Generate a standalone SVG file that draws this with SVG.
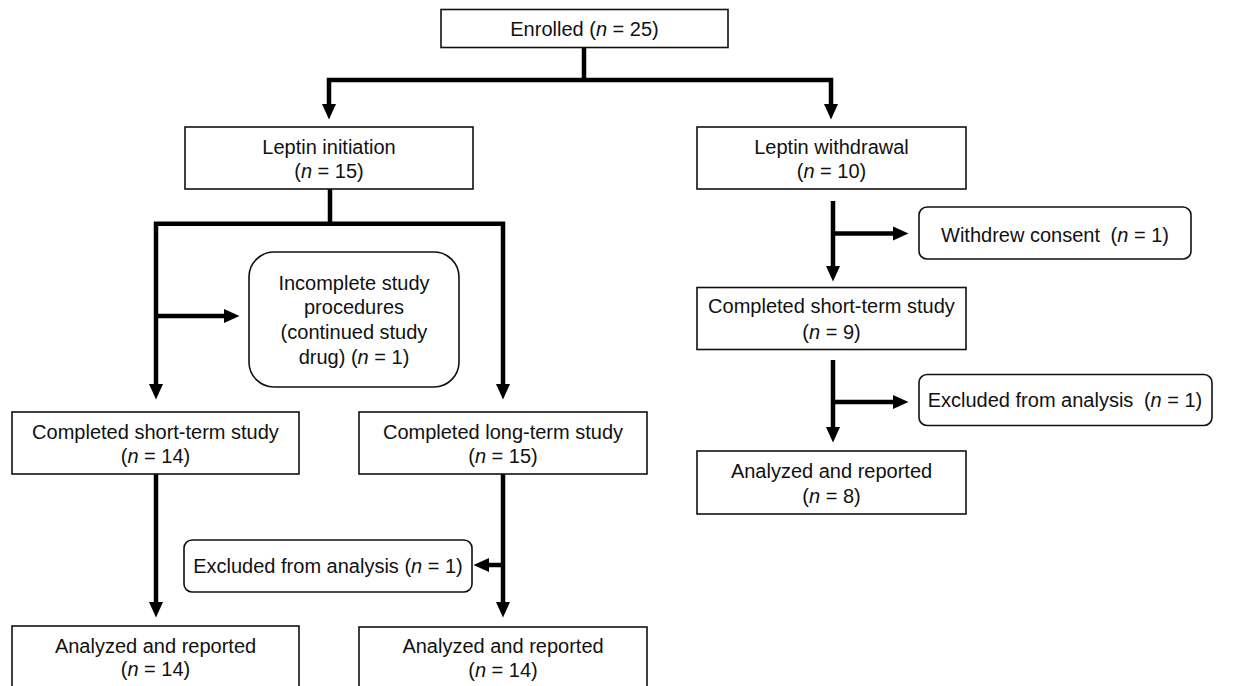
<svg xmlns="http://www.w3.org/2000/svg" width="1248" height="686" viewBox="0 0 1248 686">
<defs>
<style>
.box{fill:#fff;stroke:#111;stroke-width:1.6}
.t{font-family:"Liberation Sans",Arial,Helvetica,sans-serif;font-size:20px;fill:#111;text-anchor:middle}
.i{font-style:italic}
.c{fill:none;stroke:#000;stroke-width:4.5;stroke-linejoin:miter}
</style>
<marker id="ah" markerUnits="userSpaceOnUse" markerWidth="16" markerHeight="15" refX="5" refY="7" orient="auto-start-reverse" viewBox="0 0 16 14">
<path d="M0,0 L15.5,7 L0,14 z" fill="#000"/>
</marker>
</defs>
<rect width="1248" height="686" fill="#fff"/>
<g id="connectors">
<path class="c" d="M584,47 V80"/>
<path class="c" d="M329,109 V80 H831 V109" marker-start="url(#ah)" marker-end="url(#ah)"/>
<path class="c" d="M330,189 V223.7"/>
<path class="c" d="M156,389 V223.7 H503 V389" marker-start="url(#ah)" marker-end="url(#ah)"/>
<path class="c" d="M156,316 H229" marker-end="url(#ah)"/>
<path class="c" d="M156,474 V607" marker-end="url(#ah)"/>
<path class="c" d="M503,474 V607" marker-end="url(#ah)"/>
<path class="c" d="M503,565 H484" marker-end="url(#ah)"/>
<path class="c" d="M833,201 V271" marker-end="url(#ah)"/>
<path class="c" d="M833,233.5 H898" marker-end="url(#ah)"/>
<path class="c" d="M833,360 V432" marker-end="url(#ah)"/>
<path class="c" d="M833,402 H898" marker-end="url(#ah)"/>
</g>
<g id="enrolled">
<rect class="box" x="441" y="9.5" width="287" height="38"/>
<text class="t" x="584.5" y="36">Enrolled (<tspan class="i">n</tspan> = 25)</text>
</g>
<g id="leptin-initiation">
<rect class="box" x="185" y="127" width="288" height="62"/>
<text class="t" x="329" y="154">Leptin initiation</text>
<text class="t" x="329" y="178">(<tspan class="i">n</tspan> = 15)</text>
</g>
<g id="leptin-withdrawal">
<rect class="box" x="697" y="127" width="269" height="62"/>
<text class="t" x="831.5" y="154">Leptin withdrawal</text>
<text class="t" x="831.5" y="178">(<tspan class="i">n</tspan> = 10)</text>
</g>
<g id="withdrew-consent">
<rect class="box" x="919" y="207" width="272" height="52" rx="8"/>
<text class="t" x="1055" y="242">Withdrew consent <tspan dx="5">(</tspan><tspan class="i">n</tspan> = 1)</text>
</g>
<g id="incomplete">
<rect class="box" x="249" y="252" width="210" height="135" rx="25"/>
<text class="t" x="354" y="290">Incomplete study</text>
<text class="t" x="354" y="314">procedures</text>
<text class="t" x="354" y="339">(continued study</text>
<text class="t" x="354" y="364">drug) (<tspan class="i">n</tspan> = 1)</text>
</g>
<g id="short-term-left">
<rect class="box" x="12" y="412" width="287" height="62"/>
<text class="t" x="155.5" y="439">Completed short-term study</text>
<text class="t" x="155.5" y="463">(<tspan class="i">n</tspan> = 14)</text>
</g>
<g id="long-term">
<rect class="box" x="359" y="412" width="288" height="62"/>
<text class="t" x="503" y="439">Completed long-term study</text>
<text class="t" x="503" y="463">(<tspan class="i">n</tspan> = 15)</text>
</g>
<g id="excluded-left">
<rect class="box" x="184" y="540" width="288" height="52" rx="8"/>
<text class="t" x="328" y="573">Excluded from analysis (<tspan class="i">n</tspan> = 1)</text>
</g>
<g id="analyzed-left">
<rect class="box" x="12" y="626" width="287" height="80"/>
<text class="t" x="155.5" y="653">Analyzed and reported</text>
<text class="t" x="155.5" y="676">(<tspan class="i">n</tspan> = 14)</text>
</g>
<g id="analyzed-middle">
<rect class="box" x="359" y="627" width="288" height="80"/>
<text class="t" x="503" y="653">Analyzed and reported</text>
<text class="t" x="503" y="677">(<tspan class="i">n</tspan> = 14)</text>
</g>
<g id="short-term-right">
<rect class="box" x="697" y="287.5" width="269" height="62"/>
<text class="t" x="831.5" y="313">Completed short-term study</text>
<text class="t" x="831.5" y="339">(<tspan class="i">n</tspan> = 9)</text>
</g>
<g id="excluded-right">
<rect class="box" x="919" y="374.5" width="293" height="51" rx="8"/>
<text class="t" x="1065" y="407">Excluded from analysis <tspan dx="5">(</tspan><tspan class="i">n</tspan> = 1)</text>
</g>
<g id="analyzed-right">
<rect class="box" x="697" y="451" width="269" height="63"/>
<text class="t" x="831.5" y="478">Analyzed and reported</text>
<text class="t" x="831.5" y="503">(<tspan class="i">n</tspan> = 8)</text>
</g>
</svg>
